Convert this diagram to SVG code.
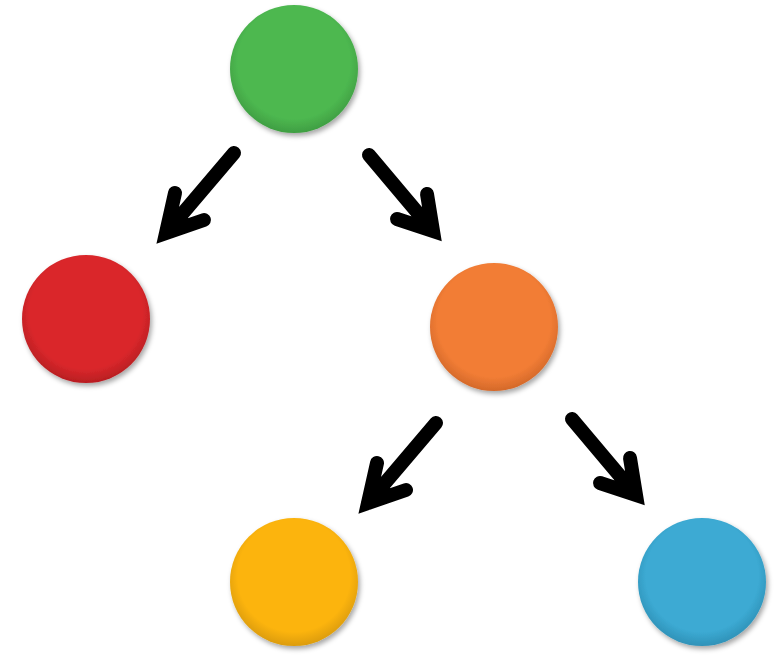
<svg xmlns="http://www.w3.org/2000/svg" width="774" height="655" viewBox="0 0 774 655">
<style>
.arrow{fill:none;stroke:#000;stroke-width:14;stroke-linecap:round;stroke-linejoin:miter}
.node circle{filter:url(#sh)}
</style>
<defs>
<filter id="sh" x="-20%" y="-20%" width="150%" height="150%">
<feDropShadow dx="2" dy="3" stdDeviation="2.5" flood-color="#000" flood-opacity="0.35"/>
</filter>
<radialGradient id="gG" cx="50%" cy="45%" r="55%"><stop offset="0.8" stop-color="#4db850"/><stop offset="1" stop-color="#3f9e42"/></radialGradient>
<radialGradient id="gR" cx="50%" cy="45%" r="55%"><stop offset="0.8" stop-color="#da272b"/><stop offset="1" stop-color="#b81e22"/></radialGradient>
<radialGradient id="gO" cx="50%" cy="45%" r="55%"><stop offset="0.8" stop-color="#f27d35"/><stop offset="1" stop-color="#d4692a"/></radialGradient>
<radialGradient id="gY" cx="50%" cy="45%" r="55%"><stop offset="0.8" stop-color="#fcb40c"/><stop offset="1" stop-color="#dc9c08"/></radialGradient>
<radialGradient id="gB" cx="50%" cy="45%" r="55%"><stop offset="0.8" stop-color="#3caad3"/><stop offset="1" stop-color="#2f92b8"/></radialGradient>
</defs>
<g id="connectors">
<path class="arrow" d="M234,153 L166,233 M175,193 L166,233 L204,220"/>
<path class="arrow" d="M369,155 L433,231 M427,194 L433,231 L397,219"/>
<path class="arrow" d="M436,423 L368,503 M377,463 L368,503 L406,490"/>
<path class="arrow" d="M572,419 L636,495 M630,458 L636,495 L600,483"/>
</g>
<g id="node-green" class="node"><circle cx="294" cy="69" r="64" fill="url(#gG)"/></g>
<g id="node-red" class="node"><circle cx="86" cy="319" r="64" fill="url(#gR)"/></g>
<g id="node-orange" class="node"><circle cx="494" cy="327" r="64" fill="url(#gO)"/></g>
<g id="node-yellow" class="node"><circle cx="294" cy="582" r="64" fill="url(#gY)"/></g>
<g id="node-blue" class="node"><circle cx="702" cy="582" r="64" fill="url(#gB)"/></g>
</svg>
